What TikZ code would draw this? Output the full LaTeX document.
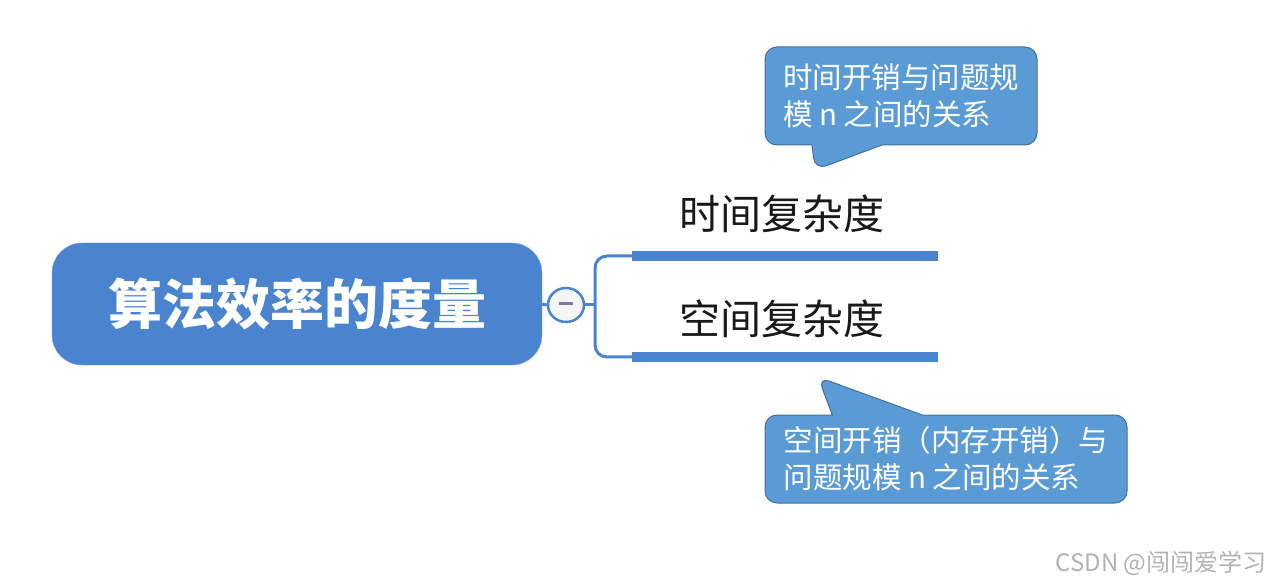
\documentclass[tikz,border=0pt]{standalone}
\usepackage{fontspec}
\newfontfamily\cjk{Noto Sans CJK SC}
\usetikzlibrary{shapes.geometric,shapes.callouts}
\definecolor{mainblue}{HTML}{4A84CE}
\definecolor{noteblue}{HTML}{5B9BD5}
\definecolor{noteedge}{HTML}{41719C}
\definecolor{minusgray}{HTML}{7A7A9A}
\tikzset{
    topic/.style={rectangle, rounded corners=30pt, fill=mainblue, draw=mainblue!70,
        text=white, font=\cjk\bfseries\fontsize{54}{60}\selectfont,
        minimum width=490pt, minimum height=122pt},
    subtopic/.style={font=\cjk\fontsize{41}{46}\selectfont, text=black!90},
    note/.style={rectangle callout, rounded corners=12pt, fill=noteblue, draw=noteedge,
        line width=1pt, text=white, align=left,
        font=\cjk\fontsize{29.5}{37}\selectfont},
    branch/.style={draw=mainblue, line width=3pt},
    bar/.style={draw=mainblue, line width=10pt}
}
\begin{document}
\begin{tikzpicture}[x=1pt, y=-1pt]
        \useasboundingbox (0,0) rectangle (1272,585);

        % Main topic
        \node[topic] (main) at (297,304) {算法效率的度量};

        % Fold button
        \node[ellipse, draw=mainblue, line width=2.5pt, fill=gray!8,
            minimum width=36pt, minimum height=34pt, inner sep=0pt] (fold) at (566,305)
            {\textcolor{minusgray}{\rule[3pt]{14pt}{2.5pt}}};
        \coordinate (split) at (595,305);

        % Branches
        \coordinate (timeL) at (632,256);
        \coordinate (timeR) at (938,256);
        \coordinate (spaceL) at (632,357);
        \coordinate (spaceR) at (938,357);
        \draw[branch] (main.east) -- (fold.west);
        \draw[branch] (fold.east) -- (split);
        \draw[branch, rounded corners=12pt] (timeL) -| (split) |- (spaceL);
        \draw[bar] (timeL) -- (timeR);
        \draw[bar] (spaceL) -- (spaceR);

        \node[subtopic] (time) at (782,214) {时间复杂度};
        \node[subtopic] (space) at (782,319) {空间复杂度};

        % Notes
        \node[note, minimum width=272pt, minimum height=98pt, callout pointer width=70pt,
            callout absolute pointer={(815,170)}] (timenote) at (901,96)
            {时间开销与问题规\\模 n 之间的关系};
        \node[note, minimum width=362pt, minimum height=88pt, callout pointer width=90pt,
            callout absolute pointer={(818,377)}] (spacenote) at (946,459)
            {空间开销（内存开销）与\\问题规模 n 之间的关系};

        % Watermark
        \node[text=gray!60, font=\cjk\fontsize{24}{28}\selectfont] (mark) at (1161,563)
            {CSDN @闯闯爱学习};
    \end{tikzpicture}
\end{document}
